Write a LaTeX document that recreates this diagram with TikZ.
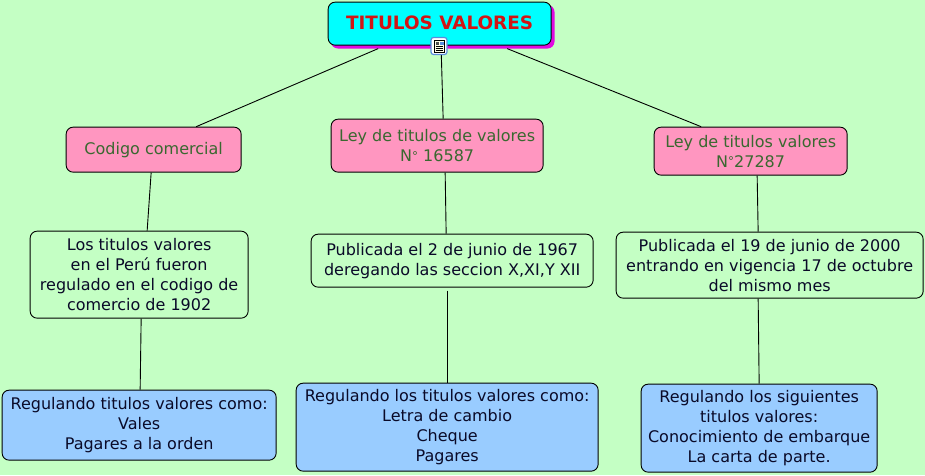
\documentclass[tikz,border=0pt]{standalone}
\usepackage{fontspec}
\setmainfont{DejaVu Sans}
\definecolor{bgc}{RGB}{196,255,196}
\definecolor{pinkc}{RGB}{255,150,192}
\definecolor{bluec}{RGB}{153,204,255}
\definecolor{greenc}{RGB}{58,104,48}
\definecolor{redc}{RGB}{210,20,20}
\definecolor{cyanc}{RGB}{0,255,255}
\definecolor{magc}{RGB}{225,10,225}
\definecolor{inkc}{RGB}{10,10,40}
\definecolor{framec}{RGB}{90,140,220}
\tikzset{
  x=1pt,y=-1pt,
  box/.style={draw=black,line width=0.9pt,rounded corners=7pt,anchor=north west,inner sep=0pt,align=center,font=\fontsize{16}{20}\selectfont},
  pinkbox/.style={box,fill=pinkc,text=greenc},
  whitebox/.style={box,fill=bgc,text=inkc},
  bluebox/.style={box,fill=bluec,text=inkc},
  edge/.style={draw=black,line width=0.9pt},
}
\newcommand{\bx}[7]{\node[#1,minimum width=#5-#3,minimum height=#6-#4] (#2) at (#3-0.3,#4-0.3) {#7};}
\newcommand{\dg}{\raisebox{1.5pt}{\fontsize{12}{12}\selectfont °}}
\begin{document}
\begin{tikzpicture}
\fill[bgc] (0,0) rectangle (925,475);
\useasboundingbox (0,0) rectangle (925,475);
% nodes
\fill[magc,rounded corners=7pt] (331,5) rectangle (554.5,48.5);
\bx{box,fill=cyanc,text=redc,font=\fontsize{18.4}{20}\selectfont\bfseries}{root}{328}{2}{551}{45}{\raisebox{2.5pt}{TITULOS VALORES}}
\bx{pinkbox}{a}{66}{127}{241}{172}{Codigo comercial}
\bx{pinkbox}{b}{331}{119}{543}{172}{Ley de titulos de valores\\N\dg{} 16587}
\bx{pinkbox}{c}{654}{127}{847}{175}{Ley de titulos valores\\N\dg{}27287}
\bx{whitebox}{d}{30}{231}{248}{318}{Los titulos valores\\en el Perú fueron\\regulado en el codigo de\\comercio de 1902}
\bx{whitebox}{e}{311}{234}{593}{287}{Publicada el 2 de junio de 1967\\deregando las seccion X,XI,Y XII}
\bx{whitebox}{f}{616}{232}{923}{298}{Publicada el 19 de junio de 2000\\entrando en vigencia 17 de octubre\\del mismo mes}
\bx{bluebox}{g}{2}{390}{276}{460}{Regulando titulos valores como:\\Vales\\Pagares a la orden}
\bx{bluebox}{h}{296}{383}{598}{471}{Regulando los titulos valores como:\\Letra de cambio\\Cheque\\Pagares}
\bx{bluebox}{i}{641}{384}{877}{472}{Regulando los siguientes\\titulos valores:\\Conocimiento de embarque\\La carta de parte.}
% connectors
\draw[edge] ([xshift=-61.5pt,yshift=-3pt]root.south) -- ([xshift=42.5pt]a.north);
\draw[edge] ([xshift=1.5pt,yshift=-3pt]root.south) -- ([xshift=6pt]b.north);
\draw[edge] ([xshift=67.5pt,yshift=-3pt]root.south) -- ([xshift=-49.5pt]c.north);
\draw[edge] ([xshift=-2.5pt]a.south) -- ([xshift=8pt]d.north);
\draw[edge] ([xshift=8pt]b.south) -- ([xshift=-6pt]e.north);
\draw[edge] ([xshift=6.5pt]c.south) -- ([xshift=-11.5pt]f.north);
\draw[edge] ([xshift=2pt]d.south) -- ([xshift=1pt]g.north);
\draw[edge] ([xshift=-5pt,yshift=-3pt]e.south) -- ([xshift=0pt]h.north);
\draw[edge] ([xshift=-11.5pt]f.south) -- ([xshift=0pt]i.north);
% icon
\node[draw=framec,fill=white,rounded corners=2.5pt,line width=1.2pt,minimum width=16pt,minimum height=17pt,inner sep=0pt] (icon) at (439,46) {};
\fill[white!90!yellow,draw=black,line width=0.5pt] (434,40.5) rectangle (444,52);
\fill[black!70] (435.5,42) rectangle (438.5,45);
\fill[framec] (439.5,41.5) rectangle (443.5,45);
\foreach \yy in {46.5,48.3,50}{\draw[black,line width=0.7pt] (435.5,\yy) -- (442.8,\yy);}
\end{tikzpicture}
\end{document}
